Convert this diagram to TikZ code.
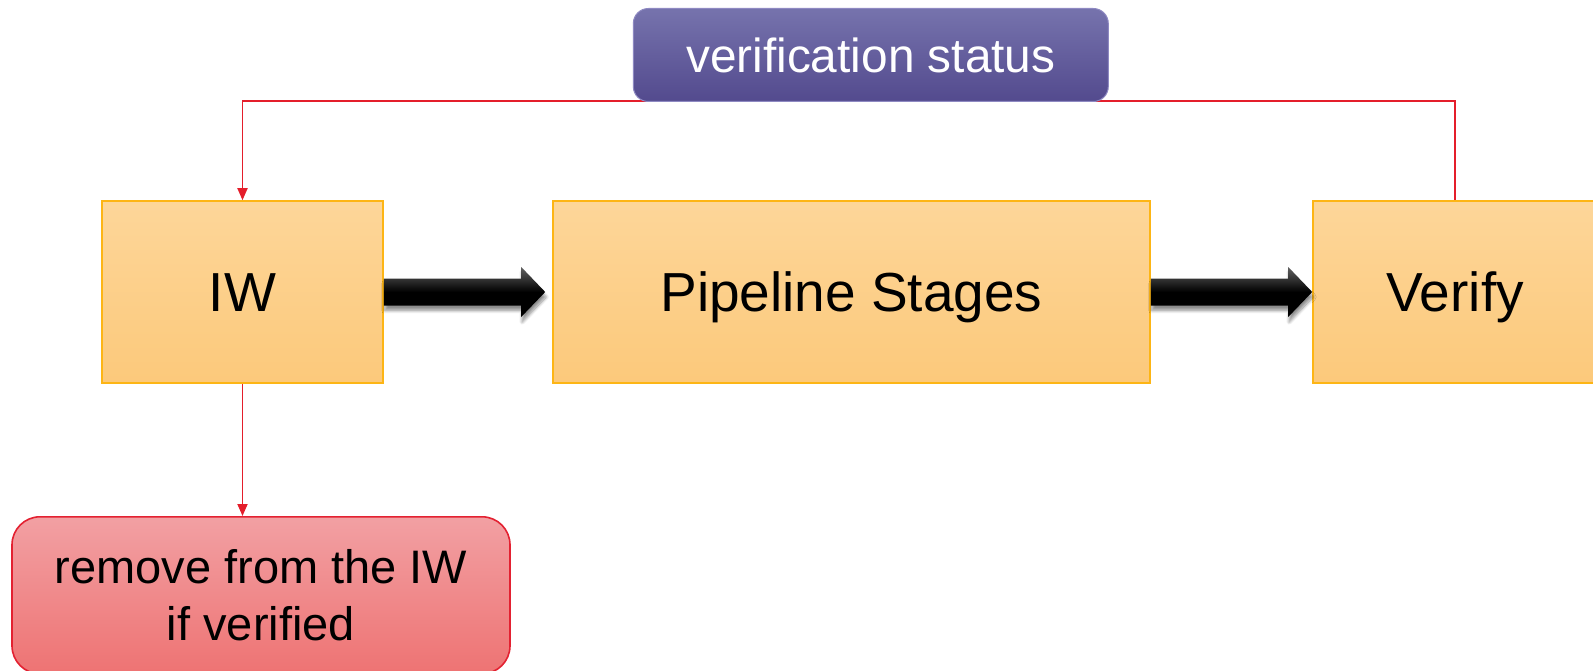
\documentclass[tikz,border=0pt]{standalone}
\usepackage{fontspec}
\setmainfont{Liberation Sans}
\usetikzlibrary{calc,arrows.meta,shadows.blur}
\definecolor{boxtop}{HTML}{FDD699}
\definecolor{boxbot}{HTML}{FCC97B}
\definecolor{boxline}{HTML}{FDB515}
\definecolor{purptop}{HTML}{7673AD}
\definecolor{purpbot}{HTML}{534A8E}
\definecolor{purpline}{HTML}{8E89C2}
\definecolor{redtop}{HTML}{F2A0A3}
\definecolor{redbot}{HTML}{EE7373}
\definecolor{redline}{HTML}{E32131}
\definecolor{wire}{HTML}{E41E2B}
\pgfdeclarelayer{bg}
\pgfsetlayers{bg,main}
\tikzset{
  stagebox/.style={rectangle, draw=boxline, line width=1.6pt,
    top color=boxtop, bottom color=boxbot, inner sep=0pt,
    minimum height=182pt, font=\fontsize{55}{66}\selectfont,
    text height=39.4pt, text depth=0pt},
  statusbox/.style={rectangle, rounded corners=15pt, draw=purpline, line width=1pt,
    top color=purptop, bottom color=purpbot, inner sep=0pt, text=white,
    minimum width=475pt, minimum height=93pt,
    font=\fontsize{47.8}{57}\selectfont, text height=34.2pt, text depth=0pt},
  removebox/.style={rectangle, rounded corners=28pt, draw=redline, line width=1.6pt,
    top color=redtop, bottom color=redbot, inner sep=0pt, align=center,
    minimum width=498pt, minimum height=157pt,
    font=\fontsize{47}{57}\selectfont},
  wireline/.style={draw=wire, line width=1.8pt},
  wirearrow/.style={wireline, -{Triangle[length=12pt,width=10pt]}},
  fatarrow/.style={top color=black!62, bottom color=black, middle color=black,
    blur shadow={shadow xshift=1pt, shadow yshift=-5pt, shadow opacity=45,
      shadow blur steps=8, shadow blur radius=3pt}}
}
% thick black block arrow from #1 to the tip #2
\newcommand\fatarrowpath[2]{%
  \path[fatarrow] ($(#1)+(0,-13.5)$) -- ($(#2)+(-24,-13.5)$) -- ($(#2)+(-24,-25)$)
    -- (#2) -- ($(#2)+(-24,25)$) -- ($(#2)+(-24,13.5)$) -- ($(#1)+(0,13.5)$) -- cycle;}
\begin{document}
\begin{tikzpicture}[x=1pt,y=-1pt]
  \useasboundingbox (0,0) rectangle (1593,671);
  \clip (0,0) rectangle (1593,671);

  % main row of stages
  \node[stagebox, minimum width=281pt] (iw) at (242.5,292) {IW};
  \node[stagebox, minimum width=597pt] (ps) at (851.5,292) {Pipeline Stages};
  \node[stagebox, minimum width=284pt] (vf) at (1455,292) {Verify};

  % feedback label and removal action
  \node[statusbox] (st) at (870.8,55) {verification status};
  \node[removebox, anchor=north] (rm) at (261,516) {remove from the IW\\if verified};

  % data flow between stages
  \coordinate (t1) at ($(ps.west)+(-7,0)$);
  \fatarrowpath{iw.east}{t1}
  \fatarrowpath{ps.east}{vf.west}

  % status feedback wires
  \begin{pgfonlayer}{bg}
    \draw[wirearrow] (vf.north) -- ++(0,-99) -| (iw.north);
    \draw[wirearrow] (iw.south) -- (iw.south |- rm.north);
  \end{pgfonlayer}
\end{tikzpicture}
\end{document}
